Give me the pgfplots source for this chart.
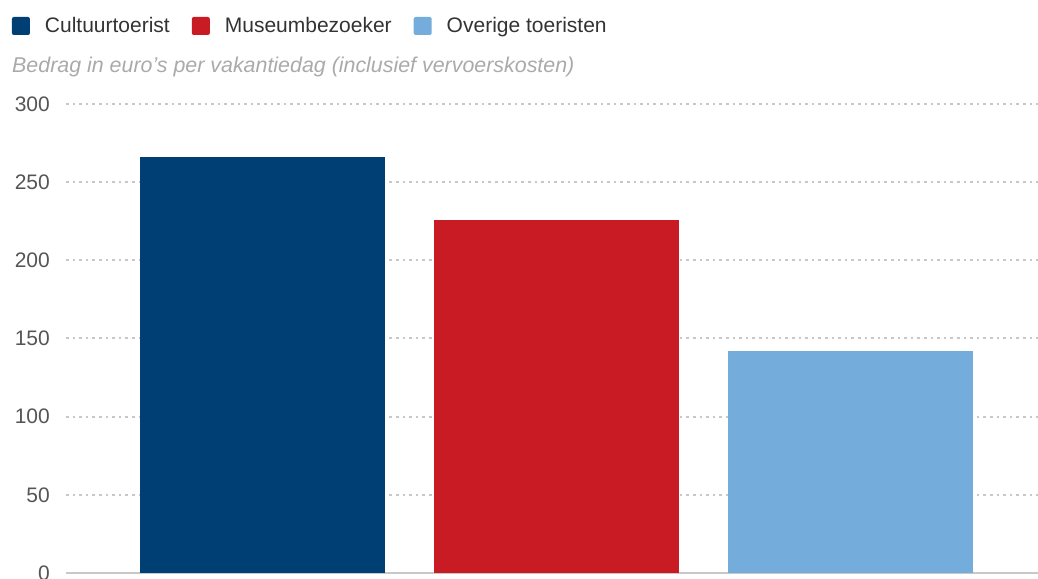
\documentclass[border=0pt]{standalone}
\usepackage{pgfplots}
\pgfplotsset{compat=1.18}
\usepackage{fontspec}
\setmainfont{Liberation Sans}
\definecolor{c1}{HTML}{003F73}
\definecolor{c2}{HTML}{C91B23}
\definecolor{c3}{HTML}{74ADDB}
\definecolor{txt}{HTML}{333333}
\definecolor{ticktxt}{HTML}{555555}
\definecolor{subtxt}{HTML}{AAAAAA}
\definecolor{gridc}{HTML}{C8C8C8}
\begin{document}
\begin{tikzpicture}
\begin{axis}[
  at={(66pt,5pt)}, anchor=south west,
  scale only axis, width=972pt, height=469pt,
  xmin=-0.67, xmax=2.64, ymin=0, ymax=300,
  ytick={0,50,...,300}, xtick=\empty,
  axis x line*=bottom, axis y line*=left,
  x axis line style={draw=gridc, line width=1.6pt, -},
  y axis line style={draw=none},
  ymajorgrids,
  grid style={draw=gridc, line width=2pt, dash pattern=on 2.6pt off 4pt},
  major tick length=0pt,
  /pgf/number format/assume math mode=true,
  yticklabel style={font=\fontsize{21}{21}\selectfont, text=ticktxt, anchor=east, inner sep=0pt, xshift=-16pt},
  ybar, bar width=245pt, bar shift=0pt,
  legend style={at={(-0.0556,1.1663)}, anchor=west, draw=none, fill=none,
    legend columns=-1, font=\fontsize{21}{21}\selectfont, text=txt,
    /tikz/every odd column/.append style={column sep=13pt},
    /tikz/every even column/.append style={column sep=20pt},
    inner sep=0pt, outer sep=0pt, cells={anchor=west}},
  legend image code/.code={\fill[#1, rounded corners=2pt] (0pt,-9pt) rectangle (18pt,9pt);},
]
\addplot[fill=c1, draw=none] coordinates {(0,266)};
\addplot[fill=c2, draw=none] coordinates {(1,226)};
\addplot[fill=c3, draw=none] coordinates {(2,142)};
\legend{Cultuurtoerist, Museumbezoeker, Overige toeristen}
\end{axis}
\node[anchor=west, inner sep=0pt, text=subtxt, font=\fontsize{21.4}{21.4}\selectfont\itshape] at (12pt,511pt) {Bedrag in euro's per vakantiedag (inclusief vervoerskosten)};
\pgfresetboundingbox
\path[use as bounding box] (0,0) rectangle (1038pt,578pt);
\end{tikzpicture}
\end{document}
